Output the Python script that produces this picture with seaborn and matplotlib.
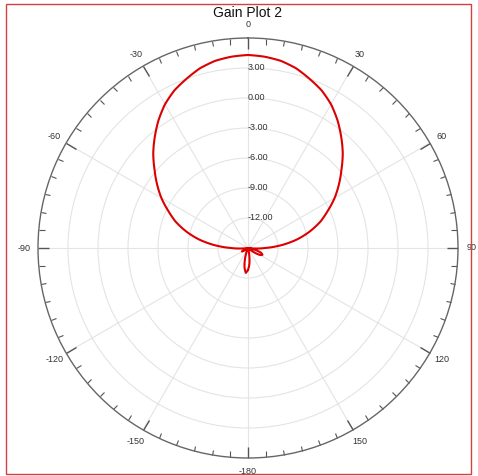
import numpy as np
import pandas as pd
import matplotlib
matplotlib.use("Agg")
import matplotlib.pyplot as plt
from matplotlib.patches import Rectangle
import seaborn as sns

# gain pattern (degrees, dB)
angles = list(range(-180, 185, 5))
gain = [
    -12.8, -12.5, -13.0, -13.8, -14.6, -15.0, -15.0, -15.0, -15.0, -15.0,   # -180..-135
    -15.0, -14.6, -14.3, -14.6, -15.0, -15.0, -15.0, -14.5, -13.3, -11.6,   # -130..-85
    -10.0, -8.6, -7.3, -6.2, -5.0, -3.9, -2.8, -1.6, -0.5, 0.6,             # -80..-35
    1.6, 2.4, 3.0, 3.6, 4.0, 4.2, 4.3, 4.2, 4.0, 3.6,                       # -30..15
    3.0, 2.4, 1.6, 0.6, -0.5, -1.6, -2.8, -3.9, -5.0, -6.2,                 # 20..65
    -7.3, -8.6, -10.0, -11.6, -13.3, -14.5, -15.0, -14.2, -13.6, -13.4,     # 70..115
    -13.6, -14.2, -15.0, -15.0, -15.0, -15.0, -15.0, -15.0, -15.0, -15.0,   # 120..165
    -14.3, -13.4, -12.8,                                                    # 170..180
]
ring_values = [-12, -9, -6, -3, 0, 3]
theta_ticks = [0, 30, 60, 90, 120, 150, 180, 210, 240, 270, 300, 330]
theta_labels = ["0", "30", "60", "90", "120", "150", "-180", "-150", "-120", "-90", "-60", "-30"]

sns.set_style("white")
plt.rcParams["font.family"] = ["Liberation Sans", "DejaVu Sans"]

df = pd.DataFrame({"theta": np.radians(angles), "gain": gain})

fig = plt.figure(figsize=(4.78, 4.76), dpi=100)
ax = fig.add_axes([38 / 478, 18 / 476, 420 / 478, 420 / 476], projection="polar")
ax.set_theta_zero_location("N")
ax.set_theta_direction(-1)

sns.lineplot(data=df, x="theta", y="gain", ax=ax, sort=False, estimator=None,
             color="#dd0000", linewidth=1.5)
# draw segments as arcs in polar space so the pattern looks smooth
for line in ax.get_lines():
    line.get_path()._interpolation_steps = 20
    line.recache(always=True)
ax.set_xlabel("")
ax.set_ylabel("")

ax.set_rlim(-15, 6)
ax.set_yticks(ring_values)
ax.set_yticklabels([])
for v in ring_values:
    ax.text(0, v, f"{v:.2f}", ha="left", va="center", fontsize=6.5, color="#333333")

ax.set_xticks(np.radians(theta_ticks))
ax.set_xticklabels(theta_labels)
ax.set_xticks(np.radians(np.arange(0, 360, 5)), minor=True)
ax.tick_params(axis="x", which="both", bottom=False, top=True)
ax.tick_params(axis="x", which="major", direction="in", length=8, width=1,
               color="#555555", pad=3, labelsize=6.5, labelcolor="#333333")
ax.tick_params(axis="x", which="minor", direction="in", length=4, width=0.8,
               color="#555555")
ax.xaxis.grid(True, which="major", color="#e4e4e4", linewidth=0.8)
ax.xaxis.grid(False, which="minor")
ax.yaxis.grid(True, color="#e4e4e4", linewidth=0.8)
ax.spines["polar"].set_color("#666666")
ax.spines["polar"].set_linewidth(1)

fig.text(248 / 478, 1 - 13 / 476, "Gain Plot 2", ha="center", va="center",
         fontsize=10, color="#111111")
fig.patches.append(Rectangle((6 / 478, 2 / 476), 465 / 478, 470 / 476,
                             transform=fig.transFigure, fill=False,
                             edgecolor="#d44040", linewidth=1))

fig.savefig("out.png", dpi=100)
